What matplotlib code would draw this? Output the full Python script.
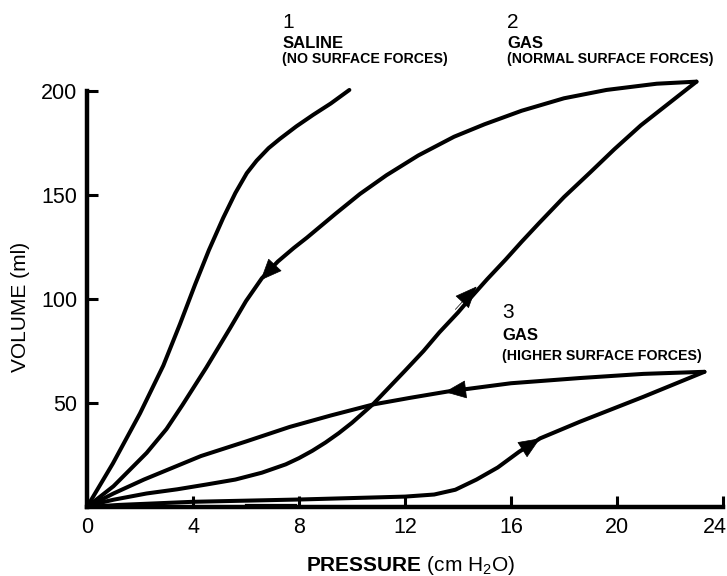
import matplotlib
matplotlib.use("Agg")
import matplotlib.pyplot as plt
import matplotlib.transforms as mtransforms
from matplotlib.patches import FancyArrowPatch, ArrowStyle

plt.rcParams["font.family"] = ["Liberation Sans", "DejaVu Sans"]
plt.rcParams["mathtext.fontset"] = "custom"
plt.rcParams["mathtext.rm"] = "Liberation Sans"
plt.rcParams["mathtext.it"] = "Liberation Sans:italic"
plt.rcParams["mathtext.bf"] = "Liberation Sans:bold"

# ---- pressure (cm H2O) / volume (ml) readings -------------------------------
# 1: saline-filled lung (inflation only)
saline_p = [0, 0.98, 2.0, 2.88, 3.51, 4.08, 4.6, 5.14, 5.6, 6.03, 6.4, 6.85, 7.28,
            7.9, 8.53, 9.2, 9.9]
saline_v = [0, 21, 45, 68, 88, 107, 123.5, 139, 151, 160.5, 166.5, 172.5, 177,
            183, 188.5, 194, 200.5]

# 2: gas-filled lung, normal surface forces
gas_inf_p = [0, 0.5, 1.0, 2.25, 3.4, 4.5, 5.6, 6.6, 7.5, 8.0, 8.5, 9.0, 9.5, 10.0,
             10.8, 11.4, 12.0, 12.7, 13.3, 14.0, 14.4, 15.1, 15.8, 16.4, 17.06,
             18.0, 19.0, 19.9, 20.9, 22.0, 23.0]
gas_inf_v = [0, 2.0, 3.5, 6.5, 8.5, 10.8, 13.2, 16.5, 20.5, 23.5, 27, 31, 35.5, 40.5,
             49.5, 57.5, 65.5, 75, 84, 93.5, 99.5, 109.5, 119, 127.5, 136.5,
             149, 161, 172, 183.5, 194.5, 204.5]
gas_def_p = [23.0, 21.5, 19.6, 18.0, 16.4, 15.0, 13.85, 12.5, 11.3, 10.3, 9.38, 8.3,
             7.8, 7.2, 6.6, 6.0, 5.4, 4.5, 3.6, 3.0, 2.25, 1.0, 0]
gas_def_v = [204.5, 203.5, 200.5, 196.5, 190.5, 184, 178, 169, 159.5, 150.5, 141, 129.5,
             124.5, 118, 110, 99, 86, 67, 49, 37.5, 26, 10, 0]

# 3: gas-filled lung, higher surface forces
hsf_inf_p = [0, 1.2, 4.0, 8.0, 12.0, 13.1, 13.9, 14.7, 15.5, 16.3, 17.1, 18.6, 21.0, 23.3]
hsf_inf_v = [0, 1.0, 2.5, 3.6, 5.0, 6.0, 8.3, 13.2, 19.0, 26.5, 33.0, 41.0, 53.0, 65.0]
hsf_def_p = [23.3, 21.0, 18.6, 16.0, 13.6, 12.2, 10.8, 9.2, 7.65, 6.0, 4.3, 2.15, 1.0, 0]
hsf_def_v = [65.0, 64.0, 62.0, 59.5, 55.5, 52.5, 49.3, 44.0, 38.5, 31.5, 24.5, 13.2, 6.5, 0]

# short stroke lying along the pressure axis
trace_p = [6.0, 7.9]
trace_v = [0.9, 0.9]

# direction arrows: (tail pressure, tail volume, tip pressure, tip volume)
arrows = [
    (7.1, 116.5, 6.55, 109.0),    # normal deflation
    (13.9, 95.0, 14.7, 106.0),    # normal inflation
    (14.6, 57.0, 13.5, 55.3),     # higher-force deflation
    (16.3, 26.5, 17.1, 33.0),     # higher-force inflation
]

x_ticks = [0, 4, 8, 12, 16, 20, 24]
y_ticks = [50, 100, 150, 200]

# curve labels: (pressure, [(text, volume, size, weight), ...])
labels = [
    (7.36, [("1", 230.3, 15, "normal"), ("SALINE", 220.7, 12, "bold"),
            ("(NO SURFACE FORCES)", 213.5, 10.2, "bold")]),
    (15.85, [("2", 230.3, 15, "normal"), ("GAS", 220.7, 12, "bold"),
             ("(NORMAL SURFACE FORCES)", 213.5, 10.2, "bold")]),
    (15.66, [("3", 91.1, 15, "normal"), ("GAS", 80.3, 12, "bold"),
             ("(HIGHER SURFACE FORCES)", 70.9, 10.2, "bold")]),
]

# ---- figure ----------------------------------------------------------------
fig = plt.figure(figsize=(7.27, 5.76), dpi=100)
ax = fig.add_axes([87 / 727, 69 / 576, 636 / 727, 416 / 576])

line_kw = dict(color="black", lw=2.9, solid_capstyle="round",
               solid_joinstyle="round", clip_on=False, zorder=3)
for p, v in [(saline_p, saline_v), (gas_inf_p, gas_inf_v), (gas_def_p, gas_def_v),
             (hsf_inf_p, hsf_inf_v), (hsf_def_p, hsf_def_v)]:
    ax.plot(p, v, **line_kw)
ax.plot(trace_p, trace_v, color="black", lw=1.6, clip_on=False, zorder=3)

head = ArrowStyle("-|>", head_length=0.9, head_width=0.38)
for tp, tv, hp, hv in arrows:
    ax.add_patch(FancyArrowPatch((tp, tv), (hp, hv), arrowstyle=head, mutation_scale=16,
                                 color="black", lw=0.5, shrinkA=0, shrinkB=0,
                                 clip_on=False, zorder=4))

for px, rows in labels:
    for text, vy, size, weight in rows:
        ax.text(px, vy, text, fontsize=size, fontweight=weight, ha="left",
                va="baseline", clip_on=False)

ax.set_xlim(0, 24)
ax.set_ylim(0, 200)
ax.set_xticks(x_ticks)
ax.set_yticks(y_ticks)
ax.tick_params(direction="in", length=8, width=2.2, labelsize=15.5, pad=7)

for side in ("top", "right"):
    ax.spines[side].set_visible(False)
for side in ("left", "bottom"):
    ax.spines[side].set_linewidth(3.2)
    ax.spines[side].set_capstyle("projecting")

ax.set_ylabel("VOLUME (ml)", fontsize=15, va="center")
ax.yaxis.set_label_coords(-0.104, 0.48)
ax.set_xlabel(r"$\mathbf{PRESSURE}$ (cm H$_2$O)", fontsize=15, va="baseline")
ax.xaxis.set_label_coords(0.509, -0.154)

# keep the last pressure label inside the canvas
last = ax.xaxis.get_major_ticks()[-1].label1
last.set_transform(last.get_transform()
                   + mtransforms.ScaledTranslation(-8 / 100, 0, fig.dpi_scale_trans))

fig.savefig("out.png", dpi=100)
